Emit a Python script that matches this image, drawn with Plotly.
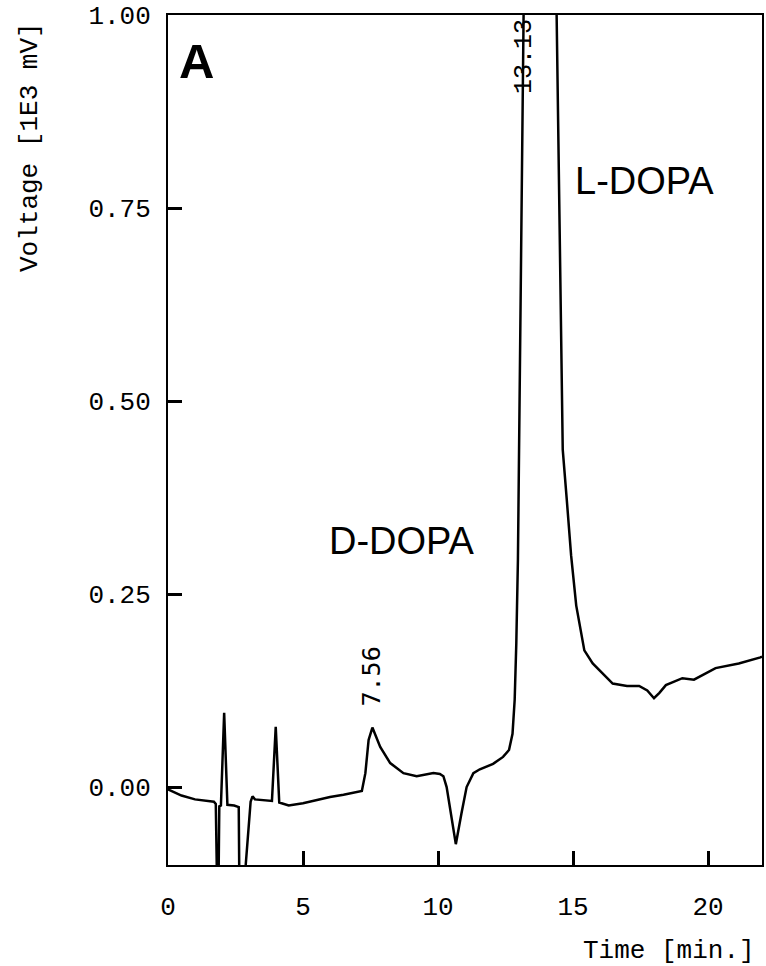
import plotly.graph_objects as go

# Chromatogram trace (time in min, voltage in 1E3 mV)
time_min = [0.0, 0.5, 1.0, 1.7, 1.77, 1.80, 1.85, 1.90, 1.96, 2.08, 2.20, 2.45, 2.62,
            2.66, 2.80, 2.88, 3.06, 3.13, 3.22, 3.85, 3.99, 4.12, 4.47, 5.0, 5.5, 6.0,
            6.5, 7.0, 7.18, 7.31, 7.43, 7.57, 7.86, 8.23, 8.72, 9.21, 9.83, 10.07, 10.2,
            10.32, 10.51, 10.66, 10.87, 11.06, 11.31, 11.55, 12.04, 12.41, 12.63, 12.76,
            12.84, 12.90, 12.96, 13.09, 13.17, 13.75, 14.39, 14.44, 14.56, 14.62, 14.77,
            14.93, 15.12, 15.42, 15.73, 16.47, 17.0, 17.45, 17.75, 18.0, 18.2, 18.44,
            19.05, 19.48, 20.28, 21.14, 21.94, 22.0]
voltage = [-0.003, -0.011, -0.016, -0.019, -0.022, -0.2, -0.2, -0.025, -0.024, 0.096,
           -0.023, -0.024, -0.026, -0.2, -0.25, -0.10, -0.019, -0.012, -0.016, -0.018,
           0.078, -0.020, -0.024, -0.021, -0.017, -0.013, -0.010, -0.007, -0.005, 0.018,
           0.061, 0.077, 0.052, 0.031, 0.018, 0.014, 0.018, 0.017, 0.014, 0.0, -0.043,
           -0.074, -0.034, 0.0, 0.018, 0.023, 0.030, 0.039, 0.048, 0.069, 0.113, 0.186,
           0.294, 0.76, 1.0, 2.6, 1.0, 0.825, 0.566, 0.437, 0.372, 0.30, 0.235, 0.177,
           0.160, 0.134, 0.131, 0.131, 0.125, 0.115, 0.122, 0.132, 0.141, 0.139, 0.154,
           0.160, 0.168, 0.169]

x_ticks = [0, 5, 10, 15, 20]
y_ticks = [0.00, 0.25, 0.50, 0.75, 1.00]
y_tick_labels = ["0.00", "0.25", "0.50", "0.75", "1.00"]

peak_labels = ["7.56", "13.13"]
compound_labels = ["D-DOPA", "L-DOPA"]

MONO = "Liberation Mono, Courier New, monospace"
SANS = "Liberation Sans, Arial, sans-serif"

fig = go.Figure()
fig.add_trace(go.Scatter(x=time_min, y=voltage, mode="lines",
                         line=dict(color="black", width=2.5), showlegend=False,
                         hoverinfo="skip"))

fig.update_layout(
    width=766, height=966,
    margin=dict(l=168, r=4, t=15, b=101, autoexpand=False),
    paper_bgcolor="white", plot_bgcolor="white",
    showlegend=False,
    font=dict(family=MONO, size=26, color="black"),
)

fig.update_xaxes(
    range=[0, 22], tickvals=x_ticks, ticktext=[str(v) for v in x_ticks],
    ticks="inside", ticklen=14, tickwidth=3, tickcolor="black",
    showline=True, linecolor="black", linewidth=2, mirror=True,
    showgrid=False, zeroline=False,
    tickfont=dict(family=MONO, size=26, color="black"),
    ticklabelstandoff=17, ticklabeloverflow="allow",
)
fig.update_yaxes(
    range=[-0.101, 1.0], tickvals=y_ticks, ticktext=y_tick_labels,
    ticks="inside", ticklen=14, tickwidth=3, tickcolor="black",
    showline=True, linecolor="black", linewidth=2, mirror=True,
    showgrid=False, zeroline=False,
    tickfont=dict(family=MONO, size=26, color="black"),
    ticklabelstandoff=10, ticklabeloverflow="allow",
)

ann = []
# axis titles
ann.append(dict(text="Voltage [1E3 mV]", xref="paper", yref="paper",
                x=(30 - 168) / 594, y=(865 - 147) / 850, textangle=-90,
                xanchor="center", yanchor="middle", showarrow=False,
                font=dict(family=MONO, size=26, color="black")))
ann.append(dict(text="Time [min.]", xref="paper", yref="paper",
                x=(757 - 168) / 594, y=(865 - 951) / 850,
                xanchor="right", yanchor="middle", showarrow=False,
                font=dict(family=MONO, size=26, color="black")))
# panel letter
ann.append(dict(text="<b>A</b>", xref="paper", yref="paper",
                x=(177 - 168) / 594, y=(865 - 61) / 850,
                xanchor="left", yanchor="middle", showarrow=False,
                font=dict(family=SANS, size=49, color="black")))
# compound labels
ann.append(dict(text=compound_labels[0], xref="paper", yref="paper",
                x=(401.7 - 168) / 594, y=(865 - 541) / 850,
                xanchor="center", yanchor="middle", showarrow=False,
                font=dict(family=SANS, size=38, color="black")))
ann.append(dict(text=compound_labels[1], xref="paper", yref="paper",
                x=(644 - 168) / 594, y=(865 - 181) / 850,
                xanchor="center", yanchor="middle", showarrow=False,
                font=dict(family=SANS, size=38, color="black")))
# peak retention-time labels
ann.append(dict(text=peak_labels[0], xref="paper", yref="paper",
                x=(371 - 168) / 594, y=(865 - 676.5) / 850, textangle=-90,
                xanchor="center", yanchor="middle", showarrow=False,
                font=dict(family="DejaVu Sans Mono, monospace", size=25, color="black")))
ann.append(dict(text=peak_labels[1], xref="paper", yref="paper",
                x=(524 - 168) / 594, y=(865 - 57) / 850, textangle=-90,
                xanchor="center", yanchor="middle", showarrow=False,
                font=dict(family=MONO, size=25, color="black")))
fig.update_layout(annotations=ann)

# remove the default 8px page margin so the figure fills the window exactly
fig.write_html("out.html",
               config={"displayModeBar": False, "staticPlot": True},
               post_script="document.body.style.margin='0';document.body.style.overflow='hidden';")
